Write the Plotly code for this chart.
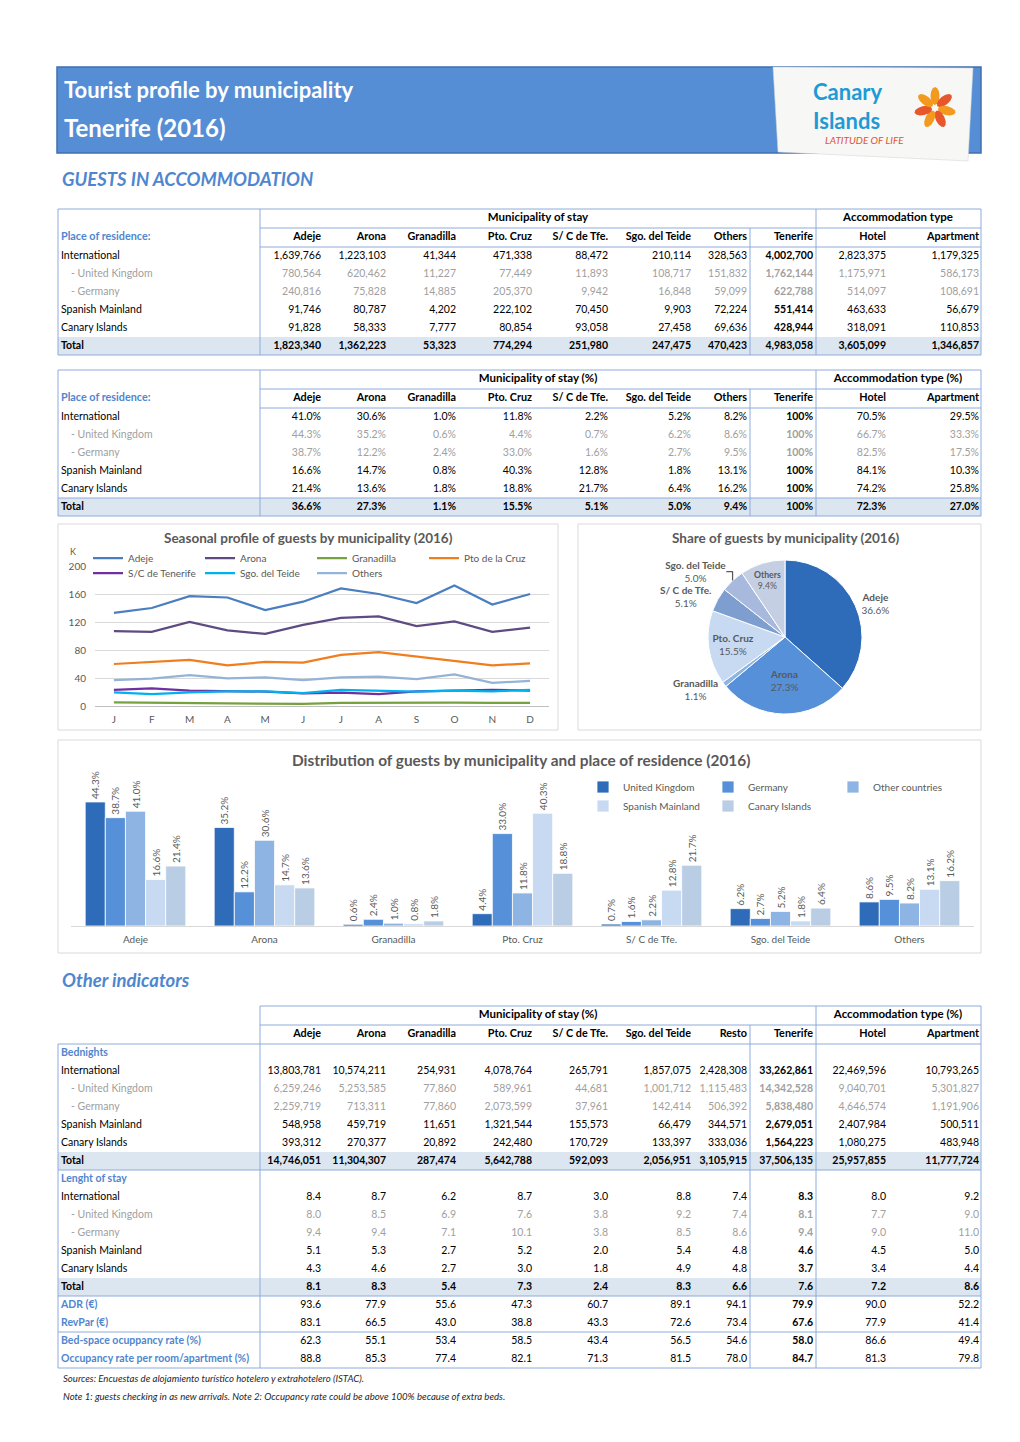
import math
import plotly.graph_objects as go

W, H = 1020, 1442
def X(p): return p / W
def Y(p): return 1 - p / H

FONT = "Lato"
GRAY = "#595959"
BLUE_TXT = "#4F86CF"
SUB_GRAY = "#A0A0A0"
LINE_CLR = "#8EAADB"
TOTAL_FILL = "#DCE6F1"

# ---------------- data ----------------
municipalities = ["Adeje", "Arona", "Granadilla", "Pto. Cruz", "S/ C de Tfe.", "Sgo. del Teide", "Others"]
table_cols = municipalities + ["Tenerife", "Hotel", "Apartment"]
table3_cols = municipalities[:6] + ["Resto", "Tenerife", "Hotel", "Apartment"]
residence = ["International", "- United Kingdom", "- Germany", "Spanish Mainland", "Canary Islands", "Total"]

# Guests (table 1)
guests_international = [1639766, 1223103, 41344, 471338, 88472, 210114, 328563, 4002700, 2823375, 1179325]
guests_uk = [780564, 620462, 11227, 77449, 11893, 108717, 151832, 1762144, 1175971, 586173]
guests_germany = [240816, 75828, 14885, 205370, 9942, 16848, 59099, 622788, 514097, 108691]
guests_spanish = [91746, 80787, 4202, 222102, 70450, 9903, 72224, 551414, 463633, 56679]
guests_canary = [91828, 58333, 7777, 80854, 93058, 27458, 69636, 428944, 318091, 110853]
guests_total = [1823340, 1362223, 53323, 774294, 251980, 247475, 470423, 4983058, 3605099, 1346857]

# Guests % (table 2)
pct_international = [41.0, 30.6, 1.0, 11.8, 2.2, 5.2, 8.2, 100, 70.5, 29.5]
pct_uk = [44.3, 35.2, 0.6, 4.4, 0.7, 6.2, 8.6, 100, 66.7, 33.3]
pct_germany = [38.7, 12.2, 2.4, 33.0, 1.6, 2.7, 9.5, 100, 82.5, 17.5]
pct_spanish = [16.6, 14.7, 0.8, 40.3, 12.8, 1.8, 13.1, 100, 84.1, 10.3]
pct_canary = [21.4, 13.6, 1.8, 18.8, 21.7, 6.4, 16.2, 100, 74.2, 25.8]
pct_total = [36.6, 27.3, 1.1, 15.5, 5.1, 5.0, 9.4, 100, 72.3, 27.0]

# Bednights (table 3)
bn_international = [13803781, 10574211, 254931, 4078764, 265791, 1857075, 2428308, 33262861, 22469596, 10793265]
bn_uk = [6259246, 5253585, 77860, 589961, 44681, 1001712, 1115483, 14342528, 9040701, 5301827]
bn_germany = [2259719, 713311, 77860, 2073599, 37961, 142414, 506392, 5838480, 4646574, 1191906]
bn_spanish = [548958, 459719, 11651, 1321544, 155573, 66479, 344571, 2679051, 2407984, 500511]
bn_canary = [393312, 270377, 20892, 242480, 170729, 133397, 333036, 1564223, 1080275, 483948]
bn_total = [14746051, 11304307, 287474, 5642788, 592093, 2056951, 3105915, 37506135, 25957855, 11777724]

# Length of stay
los_international = [8.4, 8.7, 6.2, 8.7, 3.0, 8.8, 7.4, 8.3, 8.0, 9.2]
los_uk = [8.0, 8.5, 6.9, 7.6, 3.8, 9.2, 7.4, 8.1, 7.7, 9.0]
los_germany = [9.4, 9.4, 7.1, 10.1, 3.8, 8.5, 8.6, 9.4, 9.0, 11.0]
los_spanish = [5.1, 5.3, 2.7, 5.2, 2.0, 5.4, 4.8, 4.6, 4.5, 5.0]
los_canary = [4.3, 4.6, 2.7, 3.0, 1.8, 4.9, 4.8, 3.7, 3.4, 4.4]
los_total = [8.1, 8.3, 5.4, 7.3, 2.4, 8.3, 6.6, 7.6, 7.2, 8.6]

adr = [93.6, 77.9, 55.6, 47.3, 60.7, 89.1, 94.1, 79.9, 90.0, 52.2]
revpar = [83.1, 66.5, 43.0, 38.8, 43.3, 72.6, 73.4, 67.6, 77.9, 41.4]
bedspace_occ = [62.3, 55.1, 53.4, 58.5, 43.4, 56.5, 54.6, 58.0, 86.6, 49.4]
room_occ = [88.8, 85.3, 77.4, 82.1, 71.3, 81.5, 78.0, 84.7, 81.3, 79.8]

# Seasonal profile (thousands of guests)
months = ["J", "F", "M", "A", "M", "J", "J", "A", "S", "O", "N", "D"]
seasonal_names = ["Adeje", "Arona", "Granadilla", "Pto de la Cruz", "S/C de Tenerife", "Sgo. del Teide", "Others"]
seasonal_adeje = [133, 140, 157, 155, 137, 149, 168, 160, 147, 172, 145, 160]
seasonal_arona = [107, 106, 120, 108, 103, 116, 126, 128, 114, 121, 106, 112]
seasonal_granadilla = [5.2, 4.8, 4.8, 3.8, 3.8, 2.9, 4.3, 4.8, 4.3, 4.8, 4.3, 4.3]
seasonal_ptocruz = [60, 63, 66, 58, 63, 62, 73, 77, 71, 65, 58, 61]
seasonal_sc = [23, 25, 22, 21, 20.5, 18, 19, 17, 21, 22, 23, 22]
seasonal_sgo = [19.5, 17, 19.5, 21, 21, 18.5, 23, 22, 20.5, 22, 21, 23]
seasonal_others = [37, 39, 44, 39.5, 41, 37, 41, 42, 38.5, 45, 33, 36]
seasonal_colors = ["#4A7EC0", "#5E4B82", "#77A13F", "#F07D1E", "#7030A0", "#00B0F0", "#95B3D7"]

pie_colors = ["#2E6BB8", "#5590D8", "#8DB4E2", "#C7DAF2", "#7E9ECF", "#A7B9DC", "#C5CFE4"]
bar_names = ["United Kingdom", "Germany", "Other countries", "Spanish Mainland", "Canary Islands"]
bar_colors = ["#2E6BB8", "#5590D8", "#8DB4E2", "#C7DAF2", "#B9CDE5"]

# ---------------- helpers ----------------
fig = go.Figure()
shapes = []
annotations = []

def hline(y, x0, x1, color=LINE_CLR, width=1):
    shapes.append(dict(type="line", xref="paper", yref="paper", x0=X(x0), x1=X(x1),
                       y0=Y(y), y1=Y(y), line=dict(color=color, width=width), layer="above"))

def vline(x, y0, y1, color=LINE_CLR, width=1):
    shapes.append(dict(type="line", xref="paper", yref="paper", x0=X(x), x1=X(x),
                       y0=Y(y0), y1=Y(y1), line=dict(color=color, width=width), layer="above"))

def rect(x0, y0, x1, y1, fill=None, line_color=None, line_width=1, layer="below"):
    d = dict(type="rect", xref="paper", yref="paper", x0=X(x0), x1=X(x1), y0=Y(y1), y1=Y(y0), layer=layer)
    d["fillcolor"] = fill if fill else "rgba(0,0,0,0)"
    d["line"] = dict(color=line_color if line_color else "rgba(0,0,0,0)", width=line_width if line_color else 0)
    shapes.append(d)

def text(x, y, s, size=10, color="black", xanchor="center", yanchor="middle", family=FONT, align="center"):
    annotations.append(dict(x=X(x), y=Y(y), xref="paper", yref="paper", text=s, showarrow=False,
                            xanchor=xanchor, yanchor=yanchor, align=align,
                            font=dict(family=family, size=size, color=color)))

fmt_int = lambda v: f"{v:,}"
fmt_pct = lambda v: "100%" if v == 100 else f"{v:.1f}%"
fmt_dec = lambda v: f"{v:.1f}"

# table layout (pixel positions on the page)
COL_RIGHT = [321, 386, 456, 532, 608, 691, 747, 813, 886, 979]
LABEL_X, SUB_X = 61, 71
TEN = 7  # Tenerife column index
H1, H2, RH = 19, 19, 18

def table_trace(T, header_label, group_titles, header_cols, rows):
    xs, ys, txt, pos, col, size = [], [], [], [], [], []
    def add(x, y, s, p, c, sz=10.5):
        xs.append(x); ys.append(y); txt.append(s); pos.append(p); col.append(c); size.append(sz)
    add(538, T + H1 / 2, f"<b>{group_titles[0]}</b>", "middle center", "black", 11.5)
    add(898, T + H1 / 2, f"<b>{group_titles[1]}</b>", "middle center", "black", 11.5)
    hy = T + H1 + H2 / 2
    if header_label:
        add(LABEL_X, hy, f"<b>{header_label}</b>", "middle right", BLUE_TXT, 10.8)
    for c, name in enumerate(header_cols):
        add(COL_RIGHT[c], hy, f"<b>{name}</b>", "middle left", "black", 10.8)
    for i, (label, vals, style) in enumerate(rows):
        y = T + H1 + H2 + RH * i + RH / 2
        lab_color = {"normal": "black", "sub": SUB_GRAY, "total": "black",
                     "section": BLUE_TXT, "metric": BLUE_TXT}[style]
        lab = f"<b>{label}</b>" if style in ("total", "section", "metric") else label
        add(SUB_X if style == "sub" else LABEL_X, y, lab, "middle right", lab_color)
        if vals is None:
            continue
        for c, v in enumerate(vals):
            s = f"<b>{v}</b>" if (style == "total" or c == TEN) else v
            add(COL_RIGHT[c], y, s, "middle left", SUB_GRAY if style == "sub" else "black")
    return go.Scatter(x=xs, y=ys, text=txt, mode="text", textposition=pos,
                      textfont=dict(family=FONT, size=size, color=col), xaxis="x3", yaxis="y3",
                      cliponaxis=False, showlegend=False, hoverinfo="skip")

styles6 = ["normal", "sub", "sub", "normal", "normal", "total"]

# ---------------- banner ----------------
rect(57, 67, 981, 153, fill="#558ED5", line_color="#3F6FB0", line_width=1.5)
text(62, 90, "<b>Tourist profile by municipality</b>", size=22, color="white", xanchor="left")
text(62, 128, "<b>Tenerife (2016)</b>", size=24, color="white", xanchor="left")
pts = [(773, 67), (973, 68), (968, 161), (778, 152)]
path = "M " + " L ".join(f"{X(a):.5f},{Y(b):.5f}" for a, b in pts) + " Z"
shapes.append(dict(type="path", xref="paper", yref="paper", path=path, fillcolor="#F7F7F5",
                   line=dict(color="#D0D0D0", width=0.5), layer="below"))
cx, cy = 935, 108
for k in range(7):
    ang = math.radians(-90 + k * 360 / 7)
    rr, a, b = 12, 9, 4.5
    ccx, ccy = cx + rr * math.cos(ang), cy + rr * math.sin(ang)
    pp = []
    for t in range(0, 360, 30):
        tt = math.radians(t)
        ex, ey = a * math.cos(tt), b * math.sin(tt)
        pp.append((ccx + ex * math.cos(ang) - ey * math.sin(ang), ccy + ex * math.sin(ang) + ey * math.cos(ang)))
    pth = "M " + " L ".join(f"{X(a_):.5f},{Y(b_):.5f}" for a_, b_ in pp) + " Z"
    shapes.append(dict(type="path", xref="paper", yref="paper", path=pth,
                       fillcolor="#F39A1E" if k % 2 == 0 else "#E8572B", line=dict(width=0), layer="below"))
text(811, 106, "<b>Canary<br>Islands</b>", size=22, color="#1E9AD6", xanchor="left", align="left")
text(864, 140, "<i>LATITUDE OF LIFE</i>", size=10, color="#E2552D")

# ---------------- section headings ----------------
text(60, 179, "<b><i>GUESTS IN ACCOMMODATION</i></b>", size=18.5, color=BLUE_TXT, xanchor="left")
text(60, 980, "<b><i>Other indicators</i></b>", size=18.5, color=BLUE_TXT, xanchor="left")

# ---------------- table 1 ----------------
rows1 = [(lab, [fmt_int(v) for v in vals], st) for lab, vals, st in
         zip(residence, [guests_international, guests_uk, guests_germany, guests_spanish,
                         guests_canary, guests_total], styles6)]
T = 209
B = T + H1 + H2 + RH * len(rows1)
rect(58, B - RH, 981, B, fill=TOTAL_FILL)
rect(58, T, 981, B, line_color=LINE_CLR, layer="above")
hline(T + H1, 260, 981); hline(T + H1 + H2, 260, 981)
vline(260, T, B); vline(816, T, B); vline(750, T + H1, B)
fig.add_trace(table_trace(T, "Place of residence:", ["Municipality of stay", "Accommodation type"], table_cols, rows1))

# ---------------- table 2 ----------------
rows2 = [(lab, [fmt_pct(v) for v in vals], st) for lab, vals, st in
         zip(residence, [pct_international, pct_uk, pct_germany, pct_spanish,
                         pct_canary, pct_total], styles6)]
T = 370
B = T + H1 + H2 + RH * len(rows2)
rect(58, B - RH, 981, B, fill=TOTAL_FILL)
rect(58, T, 981, B, line_color=LINE_CLR, layer="above")
hline(T + H1, 260, 981); hline(T + H1 + H2, 260, 981); hline(B - RH, 58, 981)
vline(260, T, B); vline(816, T, B); vline(750, T + H1, B)
fig.add_trace(table_trace(T, "Place of residence:", ["Municipality of stay (%)", "Accommodation type (%)"], table_cols, rows2))

# ---------------- table 3 ----------------
rows3 = [("Bednights", None, "section")]
rows3 += [(lab, [fmt_int(v) for v in vals], st) for lab, vals, st in
          zip(residence, [bn_international, bn_uk, bn_germany, bn_spanish, bn_canary, bn_total], styles6)]
rows3.append(("Lenght of stay", None, "section"))
rows3 += [(lab, [fmt_dec(v) for v in vals], st) for lab, vals, st in
          zip(residence, [los_international, los_uk, los_germany, los_spanish, los_canary, los_total], styles6)]
for lab, vals in [("ADR (€)", adr), ("RevPar (€)", revpar), ("Bed-space ocuppancy rate (%)", bedspace_occ),
                  ("Occupancy rate per room/apartment (%)", room_occ)]:
    rows3.append((lab, [fmt_dec(v) for v in vals], "metric"))
T = 1006
D0 = T + H1 + H2
END = D0 + RH * len(rows3)
rect(58, D0 + 6 * RH, 981, D0 + 7 * RH, fill=TOTAL_FILL)
rect(58, D0 + 13 * RH, 981, D0 + 14 * RH, fill=TOTAL_FILL)
hline(T, 260, 981); hline(T + H1, 260, 981); hline(D0, 58, 981); hline(END, 58, 981)
hline(D0 + 7 * RH, 58, 981); hline(D0 + 14 * RH, 58, 981); hline(D0 + 16 * RH, 58, 981)
vline(58, D0, END); vline(260, T, END); vline(981, T, END); vline(816, T, END); vline(750, T + H1, END)
fig.add_trace(table_trace(T, "", ["Municipality of stay (%)", "Accommodation type (%)"], table3_cols, rows3))

# ---------------- line chart ----------------
rect(58, 524, 558, 730, line_color="#D9D9D9", layer="above")
text(308, 538, "<b>Seasonal profile of guests by municipality (2016)</b>", size=13.5, color=GRAY)
text(73, 551, "K", size=9, color=GRAY)
series = [seasonal_adeje, seasonal_arona, seasonal_granadilla, seasonal_ptocruz,
          seasonal_sc, seasonal_sgo, seasonal_others]
for i, (name, ys, col) in enumerate(zip(seasonal_names, series, seasonal_colors)):
    fig.add_trace(go.Scatter(x=list(range(len(months))), y=ys, name=name, mode="lines",
                             line=dict(color=col, width=2.25), xaxis="x", yaxis="y",
                             legend="legend" if i < 4 else "legend2", hoverinfo="skip"))

# ---------------- pie ----------------
rect(578, 524, 981, 730, line_color="#D9D9D9", layer="above")
text(786, 538, "<b>Share of guests by municipality (2016)</b>", size=13.5, color=GRAY)
fig.add_trace(go.Pie(labels=municipalities, values=guests_total[:7], sort=False, direction="clockwise",
                     rotation=0, domain=dict(x=[X(708), X(862)], y=[Y(714), Y(560)]),
                     marker=dict(colors=pie_colors, line=dict(color="white", width=1)),
                     textposition=["outside", "inside", "outside", "inside", "outside", "outside", "inside"],
                     texttemplate="<b>%{label}</b><br>%{percent:.1%}", insidetextorientation="horizontal",
                     textfont=dict(family=FONT, size=10, color=GRAY), showlegend=False, hoverinfo="skip"))

# ---------------- bar chart ----------------
rect(58, 740, 981, 953, line_color="#D9D9D9", layer="above")
text(521, 760, "<b>Distribution of guests by municipality and place of residence (2016)</b>", size=15.4, color=GRAY)
bar_values = [pct_uk[:7], pct_germany[:7], pct_international[:7], pct_spanish[:7], pct_canary[:7]]
for i, (name, vals, col) in enumerate(zip(bar_names, bar_values, bar_colors)):
    fig.add_trace(go.Bar(x=municipalities, y=vals, name=name,
                         marker=dict(color=col, line=dict(color="white", width=0.8)),
                         xaxis="x2", yaxis="y2", texttemplate="%{y:.1f}%", textposition="outside", textangle=-90,
                         textfont=dict(family=FONT, size=10, color=GRAY), cliponaxis=False, constraintext="none",
                         legend="legend3" if i < 3 else "legend4", hoverinfo="skip"))

# ---------------- footnotes ----------------
text(61, 1378, "<i>Sources: Encuestas de alojamiento turístico hotelero y extrahotelero (ISTAC).</i>", size=9.6,
     color="#262626", xanchor="left")
text(61, 1396, "<i>Note 1: guests checking in as new arrivals. Note 2: Occupancy rate could be above 100% because of extra beds.</i>",
     size=9.6, color="#262626", xanchor="left")

leg_common = dict(orientation="h", xanchor="left", yanchor="middle", bgcolor="rgba(0,0,0,0)",
                  font=dict(family=FONT, size=10, color=GRAY), itemwidth=30, tracegroupgap=0,
                  entrywidthmode="pixels")

fig.update_layout(
    width=W, height=H, margin=dict(l=0, r=0, t=0, b=0, autoexpand=False), autosize=False,
    paper_bgcolor="white", plot_bgcolor="rgba(0,0,0,0)",
    font=dict(family=FONT, size=10, color=GRAY),
    shapes=shapes, annotations=annotations,
    barmode="group", bargap=0.22, bargroupgap=0,
    xaxis=dict(domain=[X(95), X(549)], range=[-0.5, 11.5], tickvals=list(range(12)), ticktext=months,
               showgrid=False, zeroline=False, showline=True, linecolor="#BFBFBF", ticks="",
               tickfont=dict(size=10, color=GRAY), ticklabelstandoff=4, fixedrange=True),
    yaxis=dict(domain=[Y(706), Y(566)], range=[0, 200], dtick=40, showgrid=True, gridcolor="#D9D9D9",
               zeroline=False, showline=False, ticks="", tickfont=dict(size=10, color=GRAY),
               ticklabelstandoff=8, fixedrange=True),
    xaxis2=dict(domain=[X(71), X(974)], anchor="y2", showgrid=False, zeroline=False, showline=True,
                linecolor="#D9D9D9", ticks="", tickfont=dict(size=10, color=GRAY), ticklabelstandoff=4,
                fixedrange=True),
    yaxis2=dict(domain=[Y(926), Y(786)], anchor="x2", range=[0, 50], visible=False, fixedrange=True),
    xaxis3=dict(domain=[0, 1], range=[0, W], anchor="y3", visible=False, fixedrange=True),
    yaxis3=dict(domain=[0, 1], range=[H, 0], anchor="x3", visible=False, fixedrange=True),
    legend=dict(x=X(88), y=Y(558), entrywidth=67, **leg_common),
    legend2=dict(x=X(88), y=Y(573), entrywidth=67, **leg_common),
    legend3=dict(x=X(583), y=Y(787), entrywidth=80, **leg_common),
    legend4=dict(x=X(583), y=Y(806), entrywidth=80, **leg_common),
)

fig.write_html("out.html", include_plotlyjs=True, full_html=True,
               config={"displayModeBar": False, "staticPlot": True},
               post_script="document.body.style.margin='0';document.body.style.overflow='hidden';")
